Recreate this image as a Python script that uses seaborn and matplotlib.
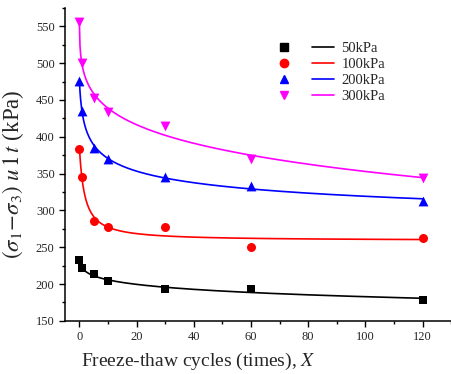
import numpy as np
import pandas as pd
import matplotlib
matplotlib.use("Agg")
import matplotlib.pyplot as plt
import seaborn as sns
from matplotlib.ticker import MultipleLocator
from matplotlib.legend_handler import HandlerTuple
from matplotlib.lines import Line2D

# data
cycles = [0, 1, 5, 10, 30, 60, 120]
s50 = [232, 222, 213, 204, 193, 193, 179]
s100 = [384, 345, 285, 278, 278, 250, 263]
s200 = [476, 435, 385, 370, 345, 333, 313]
s300 = [556, 500, 453, 433, 415, 370, 344]
labels = ['50kPa', '100kPa', '200kPa', '300kPa']
colors = ['black', 'red', 'blue', 'magenta']
markers = ['s', 'o', '^', 'v']
msizes = [36, 42, 50, 50]
fit_start = [1, 0, 0, 0]

sns.set_theme(style="ticks")
plt.rcParams['font.family'] = ['Liberation Serif', 'DejaVu Serif']
plt.rcParams['mathtext.fontset'] = 'stix'

rows = []
for lab, vals in zip(labels, [s50, s100, s200, s300]):
    for x, y in zip(cycles, vals):
        rows.append({'X': x, 'q': y, 'series': lab})
df = pd.DataFrame(rows)


def fit_curve(x, y, x0):
    # y = a + b*(x+d)^c, grid search on d and c, least squares for a, b
    x = np.asarray(x, float)
    y = np.asarray(y, float)
    best = None
    for d in [0.02, 0.05, 0.1, 0.2, 0.5, 1.0, 2.0]:
        for c in np.arange(-3.0, 0.9, 0.01):
            if abs(c) < 1e-6:
                continue
            A = np.column_stack([np.ones_like(x), (x + d) ** c])
            coef, *_ = np.linalg.lstsq(A, y, rcond=None)
            err = np.sum((A @ coef - y) ** 2)
            if best is None or err < best[0]:
                best = (err, d, c, coef)
    _, d, c, (a, b) = best
    xs = np.linspace(x0, 120, 600)
    return xs, a + b * (xs + d) ** c


fig = plt.figure(figsize=(4.52, 3.74), dpi=100)
ax = fig.add_axes([0.144, 0.142, 0.854, 0.837])

handles = []
for lab, col, mk, ms, x0 in zip(labels, colors, markers, msizes, fit_start):
    sub = df[df.series == lab]
    xs, ys = fit_curve(sub.X, sub.q, x0)
    sns.lineplot(x=xs, y=ys, color=col, lw=1.2, ax=ax)
    sns.scatterplot(data=sub, x='X', y='q', color=col, marker=mk, s=ms,
                    edgecolor=col, linewidth=0, ax=ax, zorder=3)
    h_m = Line2D([], [], color=col, marker=mk, ls='none', markersize=6)
    h_l = Line2D([], [], color=col, lw=1.2)
    handles.append((h_m, h_l))

ax.set_xlim(-5, 130)
ax.set_ylim(150, 575)
ax.xaxis.set_major_locator(MultipleLocator(20))
ax.xaxis.set_minor_locator(MultipleLocator(10))
ax.yaxis.set_major_locator(MultipleLocator(50))
ax.yaxis.set_minor_locator(MultipleLocator(25))
ax.tick_params(which='major', length=4, width=1, labelsize=9, direction='out', color='black')
ax.tick_params(which='minor', length=2.5, width=1, direction='out', color='black')
sns.despine(ax=ax)
for sp in ['left', 'bottom']:
    ax.spines[sp].set_color('black')
    ax.spines[sp].set_linewidth(1.1)

ax.set_xlabel('Freeze-thaw cycles (times), $\\it{X}$', fontsize=14)
ax.xaxis.set_label_coords(0.344, -0.095)
ax.set_ylabel('$(\\sigma_{\\mathit{1}}\\!-\\!\\sigma_{\\mathit{3}})$ $\\mathit{u\\,1\\,t}$ (kPa)',
              fontsize=16.5)
ax.yaxis.set_label_coords(-0.1, 0.47)

ax.legend(handles, labels, handler_map={tuple: HandlerTuple(ndivide=None, pad=1.2)},
          loc='upper left', bbox_to_anchor=(0.508, 0.93), frameon=False,
          fontsize=10.5, handlelength=4.2, handletextpad=0.5, labelspacing=0.2,
          borderpad=0.3)

fig.savefig('out.png', dpi=100)
